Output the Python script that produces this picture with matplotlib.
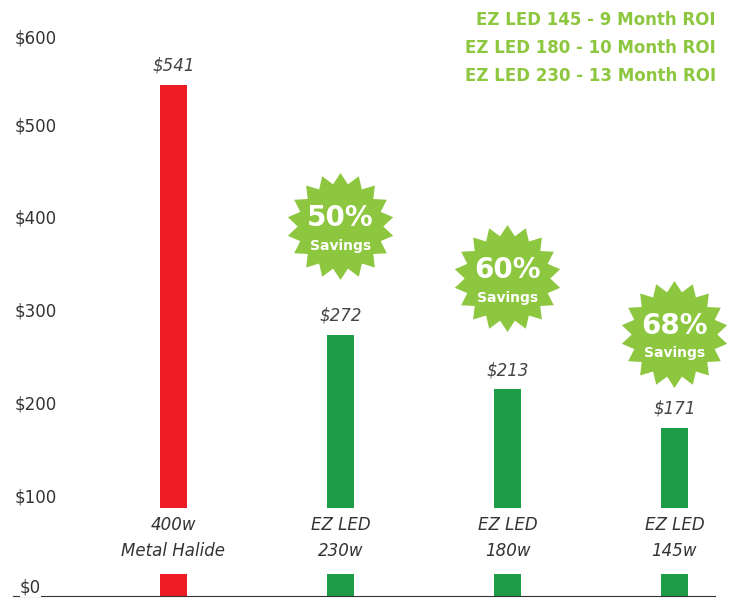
import numpy as np
import matplotlib
matplotlib.use("Agg")
import matplotlib.pyplot as plt
from matplotlib.path import Path

# data
categories = ["400w\nMetal Halide", "EZ LED\n230w", "EZ LED\n180w", "EZ LED\n145w"]
costs = [541, 272, 213, 171]
savings = ["50%", "60%", "68%"]
roi_lines = ["EZ LED 145 - 9 Month ROI", "EZ LED 180 - 10 Month ROI", "EZ LED 230 - 13 Month ROI"]
y_ticks = [100, 200, 300, 400, 500, 600]

RED = "#ee1c25"
DARK_GREEN = "#1e9c48"
LIGHT_GREEN = "#8dc63f"
TEXT = "#333333"

plt.rcParams["font.family"] = ["DejaVu Sans"]

fig = plt.figure(figsize=(7.36, 5.99), dpi=100)
ax = fig.add_axes([13 / 736, 3 / 599, 702 / 736, 596 / 599])
ymin, ymax = -9.7, 633
ax.set_xlim(-0.961, 3.243)
ax.set_ylim(ymin, ymax)

x = np.arange(len(costs))
colors = [RED] + [DARK_GREEN] * (len(costs) - 1)
gap_lo, gap_hi = 14, 85  # white gap behind the category labels
w = 0.162
ax.bar(x, np.array(costs) - gap_hi, bottom=gap_hi, width=w, color=colors)
ax.bar(x, gap_lo - ymin, bottom=ymin, width=w, color=colors)

for xi, c in zip(x, costs):
    ax.annotate(f"${c}", (xi, c), xytext=(0, 14), textcoords="offset points",
                ha="center", va="center", fontsize=12, style="italic", color="#444444")

for xi, lab in zip(x, categories):
    ax.text(xi, 53, lab, ha="center", va="center", fontsize=12, style="italic",
            color=TEXT, linespacing=1.55)

# y labels
for t in y_ticks:
    ax.text(0.003, t - 3 - (5 if t == 600 else 0), f"${t}", transform=ax.get_yaxis_transform(),
            ha="left", va="center", fontsize=12, color=TEXT)
ax.text(0.01, ymin + 9, "$0", transform=ax.get_yaxis_transform(), ha="left", va="center",
        fontsize=12, color=TEXT, bbox=dict(facecolor="white", edgecolor="none", pad=0.3))

for s in ["top", "right", "left"]:
    ax.spines[s].set_visible(False)
ax.spines["bottom"].set_color(TEXT)
ax.set_xticks([])
ax.set_yticks([])

# starburst badges
n = 18
ang = np.linspace(0, 2 * np.pi, 2 * n, endpoint=False) + np.pi / 2
rad = np.where(np.arange(2 * n) % 2 == 0, 1.0, 0.8)
verts = np.column_stack([rad * np.cos(ang), rad * np.sin(ang)])
verts = np.vstack([verts, verts[:1]])
star = Path(verts, closed=True)
star_y = [389, 333, 273]
for xi, sy, s in zip(x[1:], star_y, savings):
    ax.plot(xi, sy, marker=star, markersize=77, color=LIGHT_GREEN, mec="none", clip_on=False)
    ax.annotate(s, (xi, sy), xytext=(0, 6), textcoords="offset points", ha="center",
                va="center", fontsize=20, fontweight="bold", color="white")
    ax.annotate("Savings", (xi, sy), xytext=(0, -14), textcoords="offset points", ha="center",
                va="center", fontsize=10, fontweight="bold", color="white")

for i, line in enumerate(roi_lines):
    fig.text(716 / 736, 1 - (20 + 28 * i) / 599, line, ha="right", va="center",
             fontsize=12, fontweight="bold", color=LIGHT_GREEN)

fig.savefig("out.png", dpi=100)
